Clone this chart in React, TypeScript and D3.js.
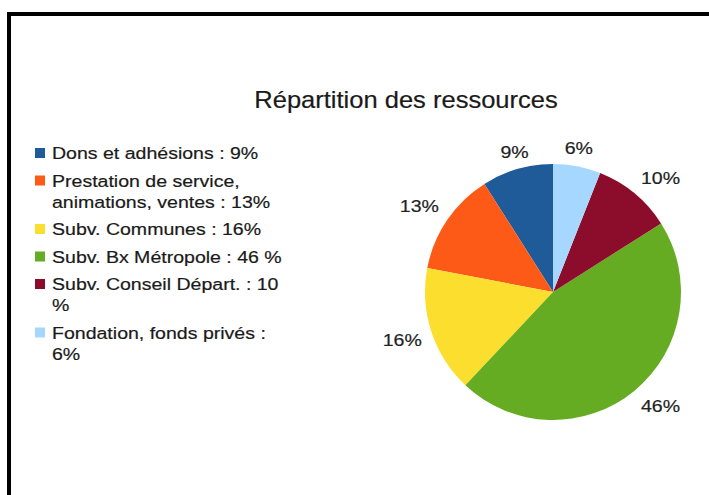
import React, { useEffect, useRef } from 'react';
import * as d3 from 'd3';

// legend order, pie is drawn counter-clockwise from 12 o'clock in this order
const categories = [
  'Dons et adhésions : 9%',
  'Prestation de service,\nanimations, ventes : 13%',
  'Subv. Communes : 16%',
  'Subv. Bx Métropole : 46 %',
  'Subv. Conseil Départ. : 10\n%',
  'Fondation, fonds privés :\n6%',
];
const values = [9, 13, 16, 46, 10, 6];
const sliceLabels = ['9%', '13%', '16%', '46%', '10%', '6%'];
const colors = ['#1f5a99', '#fd5a17', '#fbde2e', '#66ac22', '#8b0d2b', '#a6d8ff'];

const W = 709;
const H = 495;
const FONT = '"Liberation Sans", Arial, Helvetica, sans-serif';
const SX = 1.15; // the source text is a bit wide

const App: React.FC = () => {
  const svgRef = useRef<SVGSVGElement>(null);

  useEffect(() => {
    if (!svgRef.current) return;
    const svg = d3.select(svgRef.current);
    svg.selectAll('*').remove();

    svg.append('rect').attr('width', W).attr('height', H).attr('fill', '#fff');

    // frame (top and left edges only are visible)
    svg.append('rect').attr('x', 7).attr('y', 12).attr('width', W - 7).attr('height', 4).attr('fill', '#000');
    svg.append('rect').attr('x', 7).attr('y', 12).attr('width', 4).attr('height', H - 12).attr('fill', '#000');

    const stretched = (x: number, y: number, sx = SX) =>
      svg
        .append('text')
        .attr('transform', `translate(${x},${y}) scale(${sx},1)`)
        .attr('font-family', FONT)
        .attr('stroke-width', 0.2);

    stretched(406, 108, 1.11)
      .attr('text-anchor', 'middle')
      .attr('font-size', 23)
      .attr('fill', '#1a1a1a')
      .attr('stroke', '#1a1a1a')
      .text('Répartition des ressources');

    // pie
    const cx = 553;
    const cy = 292;
    const r = 128;
    const pie = d3.pie<number>().sort(null).startAngle(0).endAngle(-2 * Math.PI);
    const arcs = pie(values);
    const arc = d3.arc<d3.PieArcDatum<number>>().innerRadius(0).outerRadius(r);
    const pg = svg.append('g').attr('transform', `translate(${cx},${cy})`);
    pg.selectAll('path')
      .data(arcs)
      .join('path')
      .attr('d', arc)
      .attr('fill', (_, i) => colors[i]);

    const lr = r + 10;
    const fs = 17;
    arcs.forEach((a, i) => {
      const m = (a.startAngle + a.endAngle) / 2;
      const s = Math.sin(m);
      const c = Math.cos(m);
      const px = cx + s * lr;
      const py = cy - c * lr;
      const anchor = s > 0.3 ? 'start' : s < -0.3 ? 'end' : 'middle';
      const yc = py - Math.max(-1, Math.min(1, c * 2)) * 8;
      stretched(px, yc)
        .attr('text-anchor', anchor)
        .attr('dominant-baseline', 'central')
        .attr('font-size', fs)
        .attr('fill', '#222')
        .attr('stroke', '#222')
        .text(sliceLabels[i]);
    });

    // legend
    const lineH = 21;
    const gap = 6.5;
    let y = 153;
    categories.forEach((cat, i) => {
      const lines = cat.split('\n');
      svg.append('rect').attr('x', 35).attr('y', y - 5).attr('width', 10).attr('height', 10).attr('fill', colors[i]);
      lines.forEach((ln, j) => {
        stretched(52, y + j * lineH)
          .attr('dominant-baseline', 'central')
          .attr('font-size', 17)
          .attr('fill', '#1a1a1a')
          .attr('stroke', '#1a1a1a')
          .text(ln);
      });
      y += lines.length * lineH + gap;
    });
  }, []);

  return (
    <svg
      ref={svgRef}
      width={W}
      height={H}
      style={{ position: 'absolute', left: 0, top: 0, display: 'block' }}
    />
  );
};

export default App;
